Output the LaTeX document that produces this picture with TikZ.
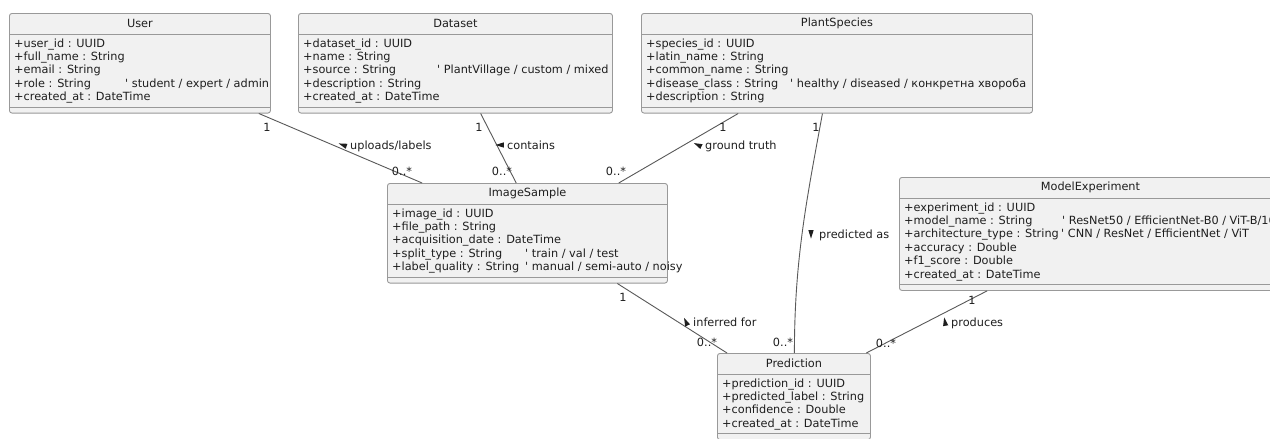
\documentclass[tikz,border=0pt]{standalone}
\usepackage{fontspec}
\setmainfont{DejaVu Sans}
\usetikzlibrary{calc}

\definecolor{boxfill}{HTML}{F1F1F1}
\definecolor{boxline}{HTML}{999999}
\definecolor{linkline}{HTML}{595959}
\definecolor{ink}{HTML}{1E1E1E}

% first column of an attribute line, padded to a fixed width
\newcommand\colat[2]{\makebox[#1pt][l]{#2}}
\newcommand\cmt{\textquotesingle\ }

\tikzset{
  classbox/.style={draw=boxline, fill=boxfill, line width=0.9pt, rounded corners=2.5pt, inner sep=0pt},
  sepline/.style={draw=boxline, line width=0.9pt},
  classtitle/.style={font=\fontsize{11.3}{13.4}\selectfont, text=ink, inner sep=0pt},
  attr/.style={font=\fontsize{11.3}{13.4}\selectfont, text=ink, inner sep=0pt},
  link/.style={draw=linkline, line width=0.9pt},
  lbl/.style={font=\fontsize{11.3}{13.4}\selectfont, text=ink, inner sep=0pt},
}

% #1 name, #2 left, #3 top, #4 right, #5 number of rows, #6 title, #7 rows
\newcommand\umlclass[7]{%
  \pgfmathsetmacro\boxh{46+(#5-1)*13.4}%
  \pgfmathsetmacro\boxw{#4-#2}%
  \node[classbox, minimum width=\boxw pt, minimum height=\boxh pt, anchor=north west] (#1) at (#2,#3) {};
  \node[classtitle] (#1-title) at ($(#1.north)+(0,10.5)$) {#6};
  \draw[sepline] ($(#1.north west)+(0,21)$) -- ($(#1.north east)+(0,21)$);
  \draw[sepline] ($(#1.south west)+(0,-6.5)$) -- ($(#1.south east)+(0,-6.5)$);
  \foreach \row [count=\i] in {#7} {
    \node[attr, anchor=base west] (#1-row\i) at ($(#1.north west)+(5,{34+(\i-1)*13.4})$) {\row};
  }
}

% small direction triangle of an association label;
% #1,#2 centre, #3 direction in degrees (counter-clockwise, 0 = right)
\newcommand\dirmark[3]{%
  \fill[ink]
    ($(#1,#2)+({4.6*cos(#3)},{-4.6*sin(#3)})$) --
    ($(#1,#2)+({4.6*cos(#3+145)},{-4.6*sin(#3+145)})$) --
    ($(#1,#2)+({4.6*cos(#3-145)},{-4.6*sin(#3-145)})$) -- cycle;
}

\begin{document}
\begin{tikzpicture}[x=1pt, y=-1pt]
\useasboundingbox (0,0) rectangle (1270,439);
\fill[white] (0,0) rectangle (1270,439);

% classes
\umlclass{user}{9}{13}{270}{5}{User}{%
  +user\_id : UUID,
  +full\_name : String,
  +email : String,
  \colat{111}{+role : String}\cmt student / expert / admin,
  +created\_at : DateTime}

\umlclass{dataset}{298}{13}{612}{5}{Dataset}{%
  +dataset\_id : UUID,
  +name : String,
  \colat{134}{+source : String}\cmt PlantVillage / custom / mixed,
  +description : String,
  +created\_at : DateTime}

\umlclass{species}{641}{13}{1032}{5}{PlantSpecies}{%
  +species\_id : UUID,
  +latin\_name : String,
  +common\_name : String,
  \colat{144}{+disease\_class : String}\cmt healthy / diseased / конкретна хвороба,
  +description : String}

\umlclass{sample}{387}{183}{667}{5}{ImageSample}{%
  +image\_id : UUID,
  +file\_path : String,
  +acquisition\_date : DateTime,
  \colat{133}{+split\_type : String}\cmt train / val / test,
  \colat{133}{+label\_quality : String}\cmt manual / semi-auto / noisy}

\umlclass{experiment}{899}{177}{1281}{6}{ModelExperiment}{%
  +experiment\_id : UUID,
  \colat{158}{+model\_name : String}\cmt ResNet50 / EfficientNet-B0 / ViT-B/16,
  \colat{157}{+architecture\_type : String}\cmt CNN / ResNet / EfficientNet / ViT,
  +accuracy : Double,
  +f1\_score : Double,
  +created\_at : DateTime}

\umlclass{prediction}{717}{353}{870}{4}{Prediction}{%
  +prediction\_id : UUID,
  +predicted\_label : String,
  +confidence : Double,
  +created\_at : DateTime}

% association end points
\coordinate (uA) at ($(user.south west)!0.954!(user.south east)$);
\coordinate (uB) at ($(sample.north west)!0.125!(sample.north east)$);
\coordinate (dA) at ($(dataset.south west)!0.58!(dataset.south east)$);
\coordinate (dB) at ($(sample.north west)!0.46!(sample.north east)$);
\coordinate (gA) at ($(species.south west)!0.248!(species.south east)$);
\coordinate (gB) at ($(sample.north west)!0.825!(sample.north east)$);
\coordinate (pA) at ($(species.south west)!0.463!(species.south east)$);
\coordinate (pB) at ($(prediction.north west)!0.503!(prediction.north east)$);
\coordinate (iA) at ($(sample.south west)!0.82!(sample.south east)$);
\coordinate (iB) at ($(prediction.north west)!0.065!(prediction.north east)$);
\coordinate (mA) at ($(experiment.south west)!0.23!(experiment.south east)$);
\coordinate (mB) at ($(prediction.north west)!0.97!(prediction.north east)$);

% associations
\draw[link] (uA) -- (uB);
\draw[link] (dA) -- (dB);
\draw[link] (gA) -- (gB);
\draw[link] (pA) .. controls ($(pA)+(-16,87)$) and ($(pB)+(0,-93)$) .. (pB);
\draw[link] (iA) -- (iB);
\draw[link] (mA) -- (mB);

% multiplicities
\node[lbl] (m1a) at (267,127) {1};
\node[lbl] (m1b) at (402,171) {0..*};
\node[lbl] (m2a) at (479,127) {1};
\node[lbl] (m2b) at (502,171) {0..*};
\node[lbl] (m3a) at (723,127) {1};
\node[lbl] (m3b) at (616,171) {0..*};
\node[lbl] (m4a) at (816,127) {1};
\node[lbl] (m4b) at (783,342) {0..*};
\node[lbl] (m5a) at (623,297) {1};
\node[lbl] (m5b) at (707,342) {0..*};
\node[lbl] (m6a) at (972,300) {1};
\node[lbl] (m6b) at (886,343) {0..*};

% association names
\dirmark{343}{145}{160}
\node[lbl, anchor=base west] (n1) at (350,149) {uploads/labels};
\dirmark{500}{145}{180}
\node[lbl, anchor=base west] (n2) at (507,149) {contains};
\dirmark{698}{145}{155}
\node[lbl, anchor=base west] (n3) at (705,149) {ground truth};
\dirmark{811}{234}{-90}
\node[lbl, anchor=base west] (n4) at (819,238) {predicted as};
\dirmark{686}{322}{115}
\node[lbl, anchor=base west] (n5) at (693,326) {inferred for};
\dirmark{945}{322}{100}
\node[lbl, anchor=base west] (n6) at (951,326) {produces};
\end{tikzpicture}
\end{document}
